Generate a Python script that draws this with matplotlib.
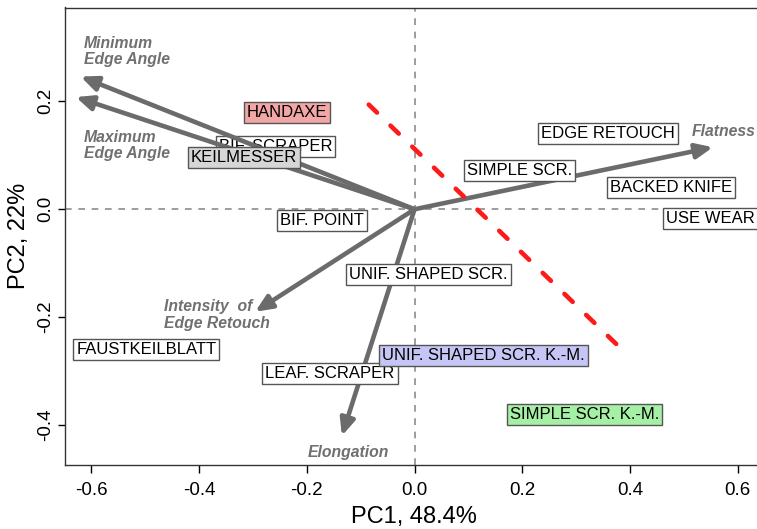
import matplotlib
matplotlib.use("Agg")
import matplotlib.pyplot as plt

plt.rcParams['font.family'] = ['Liberation Sans', 'DejaVu Sans']

# variable loadings (arrows)
var_names = ['Minimum\nEdge Angle', 'Maximum\nEdge Angle', 'Flatness',
             'Intensity  of\nEdge Retouch', 'Elongation']
var_pc1 = [-0.620, -0.629, 0.554, -0.296, -0.135]
var_pc2 = [0.246, 0.208, 0.115, -0.190, -0.420]

# tool type scores (labelled boxes)
obs_names = ['HANDAXE', 'BIF. SCRAPER', 'KEILMESSER', 'BIF. POINT',
             'EDGE RETOUCH', 'SIMPLE SCR.', 'BACKED KNIFE', 'USE WEAR',
             'UNIF. SHAPED SCR.', 'FAUSTKEILBLATT', 'LEAF. SCRAPER',
             'UNIF. SHAPED SCR. K.-M.', 'SIMPLE SCR. K.-M.']
obs_pc1 = [-0.237, -0.258, -0.317, -0.172, 0.359, 0.195, 0.476, 0.549,
           0.026, -0.498, -0.157, 0.128, 0.315]
obs_pc2 = [0.179, 0.117, 0.096, -0.021, 0.141, 0.072, 0.041, -0.017,
           -0.120, -0.260, -0.304, -0.271, -0.380]

# separating line
sep_x = [-0.085, 0.382]
sep_y = [0.194, -0.257]

xticks = [-0.6, -0.4, -0.2, 0.0, 0.2, 0.4, 0.6]
yticks = [-0.4, -0.2, 0.0, 0.2]

# label placement for the arrow names: (x, y, ha)
var_lab_pos = [(-0.614, 0.292, 'left'), (-0.614, 0.118, 'left'),
               (0.515, 0.144, 'left'), (-0.465, -0.196, 'left'),
               (-0.122, -0.450, 'center')]

box_fill = {'HANDAXE': '#f3a6a6', 'KEILMESSER': '#d6d6d6',
            'UNIF. SHAPED SCR. K.-M.': '#c6c6f6',
            'SIMPLE SCR. K.-M.': '#a6f0a6'}

W, H = 757, 529
fig = plt.figure(figsize=(W / 100, H / 100), dpi=100)
ax = fig.add_axes([65 / W, (H - 465) / H, (763 - 65) / W, (465 - 7.5) / H])
ax.set_xlim(-0.649, 0.647)
ax.set_ylim(-0.474, 0.374)

ax.axhline(0, color='#8c8c8c', lw=1.2, ls=(0, (4, 4)), zorder=1)
ax.axvline(0, color='#8c8c8c', lw=1.2, ls=(0, (4, 4)), zorder=1)

arrow_col = '#6b6b6b'
for x, y in zip(var_pc1, var_pc2):
    ax.annotate('', xy=(x, y), xytext=(0, 0),
                arrowprops=dict(arrowstyle='-|>,head_length=0.5,head_width=0.22',
                                lw=3.3, color=arrow_col, shrinkA=0, shrinkB=0,
                                mutation_scale=20),
                zorder=3)

for name, (x, y, ha) in zip(var_names, var_lab_pos):
    ax.text(x, y, name, ha=ha, va='center', fontsize=11.3, fontweight='bold',
            fontstyle='italic', color='#707070', linespacing=1.1, zorder=2)

for name, x, y in zip(obs_names, obs_pc1, obs_pc2):
    z = 2.5 if name == 'BIF. SCRAPER' else 4
    ax.text(x, y, name, ha='center', va='center', fontsize=12, color='black',
            zorder=z,
            bbox=dict(boxstyle='square,pad=0.18', fc=box_fill.get(name, 'white'),
                      ec='#555555', lw=1))

ax.plot(sep_x, sep_y, color='#ff1a1a', lw=3.3, dashes=(2.5, 4.1),
        dash_capstyle='round', zorder=5)

for s in ['left', 'top', 'bottom', 'right']:
    ax.spines[s].set_color('#333333')
    ax.spines[s].set_linewidth(1)

ax.set_xticks(xticks)
ax.set_xticklabels(['%.1f' % v for v in xticks])
ax.set_yticks(yticks)
ax.set_yticklabels(['%.1f' % v for v in yticks], rotation=90, va='center')
ax.tick_params(axis='x', length=6, width=1, labelsize=13.5, pad=6)
ax.tick_params(axis='y', length=5, width=1, labelsize=13.5, pad=3)

ax.set_xlabel('PC1, 48.4%', fontsize=17, labelpad=5)
ax.set_ylabel('PC2, 22%', fontsize=17, labelpad=5)

fig.savefig('out.png', dpi=100)
